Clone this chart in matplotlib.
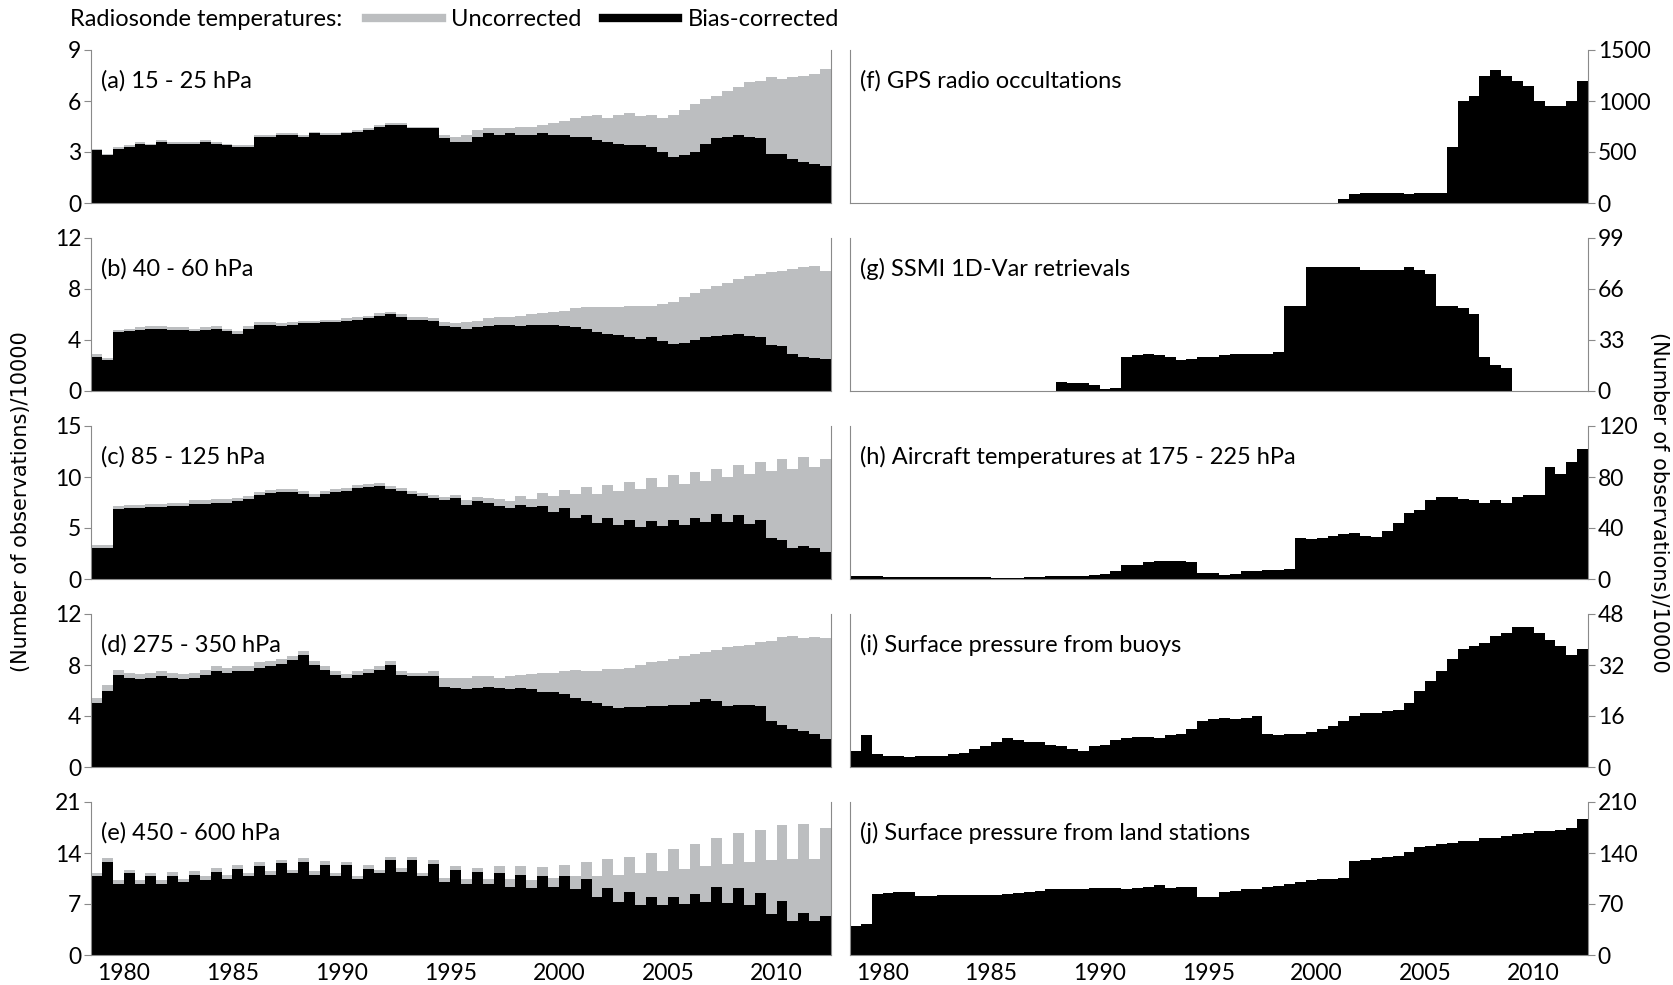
import numpy as np
import matplotlib.pyplot as plt
from matplotlib.lines import Line2D

# half-year bins, Jan-Jun and Jul-Dec, 1979-2012
years = np.arange(1979, 2013)
edges = np.arange(1979, 2013.001, 0.5)

# radiosonde temperatures, (number of obs)/10000, two values per year
raw_a = [3.2, 2.9, 3.3, 3.4, 3.6, 3.5, 3.7, 3.6, 3.6, 3.6, 3.7, 3.6,   # 1979-84
         3.5, 3.4, 3.4, 4.0, 4.0, 4.1, 4.1, 4.0, 4.2, 4.1, 4.1, 4.2,   # 1985-90
         4.3, 4.4, 4.6, 4.7, 4.7, 4.5, 4.5, 4.5, 4.0, 3.9, 4.0, 4.3,   # 1991-96
         4.4, 4.4, 4.4, 4.5, 4.5, 4.6, 4.7, 4.8, 5.0, 5.1, 5.2, 5.0,   # 1997-02
         5.2, 5.3, 5.1, 5.2, 5.0, 5.2, 5.5, 5.8, 6.1, 6.3, 6.6, 6.8,   # 2003-08
         7.1, 7.2, 7.4, 7.3, 7.4, 7.5, 7.6, 7.9]                       # 2009-12
cor_a = [3.1, 2.8, 3.2, 3.3, 3.5, 3.4, 3.6, 3.5, 3.5, 3.5, 3.6, 3.5,
         3.4, 3.3, 3.3, 3.9, 3.9, 4.0, 4.0, 3.9, 4.1, 4.0, 4.0, 4.1,
         4.2, 4.3, 4.5, 4.6, 4.6, 4.4, 4.4, 4.4, 3.8, 3.6, 3.6, 3.9,
         4.1, 4.0, 4.1, 4.0, 4.0, 4.1, 4.0, 4.0, 3.9, 3.9, 3.7, 3.6,
         3.5, 3.4, 3.4, 3.3, 3.0, 2.7, 2.8, 3.0, 3.5, 3.8, 3.9, 4.0,
         3.9, 3.8, 2.9, 2.9, 2.6, 2.4, 2.3, 2.2]

raw_b = [2.9, 2.6, 4.8, 4.9, 5.0, 5.1, 5.1, 5.0, 5.0, 4.9, 5.0, 5.1,
         4.9, 4.7, 5.1, 5.4, 5.4, 5.3, 5.4, 5.5, 5.5, 5.6, 5.6, 5.7,
         5.8, 5.9, 6.1, 6.2, 6.0, 5.8, 5.8, 5.7, 5.4, 5.3, 5.4, 5.5,
         5.7, 5.8, 5.8, 5.9, 6.0, 6.1, 6.2, 6.3, 6.5, 6.6, 6.6, 6.6,
         6.6, 6.7, 6.7, 6.7, 6.8, 7.0, 7.4, 7.7, 8.0, 8.2, 8.5, 8.8,
         9.0, 9.2, 9.3, 9.4, 9.6, 9.7, 9.8, 9.4]
cor_b = [2.7, 2.4, 4.6, 4.7, 4.8, 4.9, 4.9, 4.8, 4.8, 4.7, 4.8, 4.9,
         4.7, 4.5, 4.9, 5.2, 5.2, 5.1, 5.2, 5.3, 5.3, 5.4, 5.4, 5.5,
         5.6, 5.7, 5.9, 6.0, 5.8, 5.6, 5.6, 5.5, 5.1, 5.0, 4.9, 5.0,
         5.1, 5.2, 5.2, 5.1, 5.2, 5.2, 5.2, 5.1, 5.0, 4.9, 4.6, 4.5,
         4.4, 4.2, 4.1, 4.2, 3.9, 3.7, 3.8, 4.0, 4.2, 4.3, 4.4, 4.5,
         4.3, 4.2, 3.6, 3.5, 2.9, 2.7, 2.6, 2.5]

raw_c = [3.3, 3.3, 7.2, 7.3, 7.3, 7.4, 7.4, 7.5, 7.5, 7.7, 7.7, 7.8,
         7.8, 7.9, 8.1, 8.5, 8.7, 8.8, 8.8, 8.6, 8.3, 8.6, 8.8, 8.9,
         9.2, 9.3, 9.4, 9.1, 8.9, 8.6, 8.4, 8.2, 8.0, 8.2, 7.7, 8.0,
         7.9, 7.8, 7.6, 8.1, 7.8, 8.4, 8.1, 8.7, 8.3, 9.0, 8.3, 9.2,
         8.6, 9.5, 8.8, 9.9, 9.0, 10.2, 9.3, 10.5, 9.6, 10.8, 10.0, 11.2,
         10.3, 11.5, 10.6, 11.8, 10.8, 12.0, 11.0, 11.8]
cor_c = [3.0, 3.0, 6.9, 7.0, 7.0, 7.1, 7.1, 7.2, 7.2, 7.4, 7.4, 7.5,
         7.5, 7.6, 7.8, 8.2, 8.4, 8.5, 8.5, 8.3, 8.0, 8.3, 8.5, 8.6,
         8.9, 9.0, 9.1, 8.8, 8.6, 8.3, 8.1, 7.9, 7.7, 7.9, 7.3, 7.6,
         7.5, 7.2, 7.0, 7.3, 7.1, 7.2, 6.6, 7.0, 6.0, 6.3, 5.5, 6.0,
         5.3, 5.8, 5.1, 5.7, 5.2, 5.8, 5.3, 6.0, 5.6, 6.4, 5.6, 6.3,
         5.4, 5.8, 4.0, 3.8, 3.0, 3.2, 3.0, 2.6]

raw_d = [5.4, 6.4, 7.6, 7.4, 7.3, 7.4, 7.5, 7.4, 7.3, 7.4, 7.6, 7.9,
         7.8, 7.9, 7.9, 8.2, 8.3, 8.5, 8.7, 9.1, 8.3, 7.9, 7.5, 7.3,
         7.5, 7.7, 7.9, 8.3, 7.5, 7.4, 7.4, 7.5, 7.0, 7.0, 7.0, 7.1,
         7.1, 7.0, 7.1, 7.2, 7.3, 7.4, 7.4, 7.5, 7.6, 7.5, 7.5, 7.7,
         7.7, 7.8, 8.0, 8.2, 8.3, 8.5, 8.7, 8.9, 9.0, 9.2, 9.4, 9.5,
         9.6, 9.8, 9.9, 10.2, 10.3, 10.1, 10.2, 10.1]
cor_d = [5.0, 6.0, 7.2, 7.0, 6.9, 7.0, 7.1, 7.0, 6.9, 7.0, 7.2, 7.5,
         7.4, 7.5, 7.5, 7.8, 7.9, 8.1, 8.4, 8.8, 8.0, 7.6, 7.2, 7.0,
         7.2, 7.4, 7.6, 8.0, 7.2, 7.1, 7.1, 7.1, 6.3, 6.2, 6.1, 6.2,
         6.3, 6.2, 6.1, 6.2, 6.1, 5.9, 5.9, 5.7, 5.4, 5.2, 5.0, 4.8,
         4.6, 4.7, 4.7, 4.8, 4.8, 4.9, 4.9, 5.1, 5.3, 5.2, 4.8, 4.9,
         4.9, 4.8, 3.6, 3.3, 3.0, 2.8, 2.6, 2.2]

raw_e = [11.3, 13.3, 10.3, 11.7, 10.3, 11.3, 10.3, 11.4, 10.5, 11.5, 10.8, 11.9,
         11.0, 12.3, 11.3, 12.7, 11.5, 13.1, 11.7, 13.3, 11.5, 12.9, 11.3, 12.8,
         10.9, 12.3, 11.7, 13.5, 11.9, 13.5, 11.3, 13.0, 10.6, 12.2, 10.4, 12.0,
         10.4, 12.2, 10.4, 12.2, 10.3, 12.1, 10.6, 12.4, 10.8, 12.8, 10.9, 13.2,
         11.0, 13.5, 11.3, 14.0, 11.5, 14.5, 11.8, 15.3, 12.2, 16.0, 12.5, 16.8,
         12.8, 17.2, 13.0, 17.8, 13.2, 18.0, 13.2, 17.5]
cor_e = [10.8, 12.8, 9.8, 11.2, 9.8, 10.8, 9.8, 10.9, 10.0, 11.0, 10.3, 11.4,
         10.5, 11.8, 10.8, 12.2, 11.0, 12.6, 11.2, 12.8, 11.0, 12.4, 10.8, 12.3,
         10.4, 11.8, 11.2, 13.0, 11.4, 13.0, 10.8, 12.5, 10.0, 11.6, 9.8, 11.4,
         9.7, 11.2, 9.4, 11.0, 9.2, 10.8, 9.4, 10.8, 9.0, 10.5, 8.0, 9.2,
         7.3, 8.6, 6.9, 8.0, 6.8, 7.9, 7.0, 8.4, 7.3, 9.4, 7.1, 9.2,
         6.8, 8.5, 5.6, 7.4, 4.6, 5.7, 4.6, 5.3]

# other observing systems, (number of obs)/10000
gps = [0] * 44 + [0, 40, 90, 100, 100, 100, 100, 90, 100, 100, 100, 550,
                  1000, 1050, 1250, 1300, 1250, 1200, 1150, 1000, 950, 950, 1000, 1200]
ssmi = [0] * 18 + [0, 6, 5, 5, 4, 1, 2, 22, 23, 24, 23, 22,
                   20, 21, 22, 22, 23, 24, 24, 24, 24, 25, 55, 55,
                   80, 80, 80, 80, 80, 78, 78, 78, 78, 80, 78, 76,
                   55, 55, 54, 50, 22, 17, 15, 0, 0, 0, 0, 0, 0, 0]
aircraft = [2, 2, 2, 1.5, 1.5, 1.5, 1.5, 1.5, 1.5, 1.5, 1.5, 1.5,
            1.5, 1, 1, 1, 1.5, 1.5, 2, 2, 2, 2.5, 3, 4,
            6, 11, 11, 13, 14, 14, 14, 13, 5, 5, 3, 4,
            6, 6, 7, 7, 8, 32, 31, 32, 34, 35, 36, 34,
            33, 38, 44, 52, 54, 62, 64, 64, 63, 62, 60, 62,
            60, 64, 66, 66, 88, 82, 92, 102]
buoys = [5, 10, 4, 3.5, 3.5, 3, 3.5, 3.5, 3.5, 4, 4.5, 5.5,
         6.5, 8, 9, 8.5, 8, 8, 7, 6.5, 5.5, 5, 6.5, 7,
         8.5, 9, 9.5, 9.5, 9, 10, 10.5, 12, 14.5, 15, 15.5, 15,
         15.5, 16, 10.5, 10, 10.5, 10.5, 11, 12, 13, 14.5, 16, 17,
         17, 17.5, 18, 20, 24, 27, 30, 34, 37, 38, 39, 41,
         42, 44, 44, 42, 40, 38, 35, 37]
land = [40, 42, 84, 85, 86, 86, 81, 81, 82, 82, 83, 83,
        83, 83, 84, 85, 87, 88, 90, 90, 91, 91, 92, 92,
        92, 91, 92, 94, 96, 92, 93, 93, 80, 80, 86, 88,
        90, 90, 93, 95, 98, 100, 103, 104, 105, 106, 129, 130,
        133, 134, 136, 141, 148, 150, 152, 154, 157, 157, 160, 160,
        163, 166, 168, 170, 170, 171, 175, 186]

left_panels = [
    ('(a) 15 - 25 hPa', raw_a, cor_a, [0, 3, 6, 9]),
    ('(b) 40 - 60 hPa', raw_b, cor_b, [0, 4, 8, 12]),
    ('(c) 85 - 125 hPa', raw_c, cor_c, [0, 5, 10, 15]),
    ('(d) 275 - 350 hPa', raw_d, cor_d, [0, 4, 8, 12]),
    ('(e) 450 - 600 hPa', raw_e, cor_e, [0, 7, 14, 21]),
]
right_panels = [
    ('(f) GPS radio occultations', gps, [0, 500, 1000, 1500]),
    ('(g) SSMI 1D-Var retrievals', ssmi, [0, 33, 66, 99]),
    ('(h) Aircraft temperatures at 175 - 225 hPa', aircraft, [0, 40, 80, 120]),
    ('(i) Surface pressure from buoys', buoys, [0, 16, 32, 48]),
    ('(j) Surface pressure from land stations', land, [0, 70, 140, 210]),
]

GREY = '#bcbec0'
SPINE = '#8a8a8a'

plt.rcParams['font.family'] = ['Lato', 'DejaVu Sans']

W, H = 1673, 985
fig = plt.figure(figsize=(W / 100, H / 100), dpi=100)

tops = [50, 238, 426, 614, 802]
ph = 153


def style(ax, ticks, side, bottom_row):
    ax.set_xlim(1979, 2013)
    ax.set_ylim(0, ticks[-1])
    ax.set_yticks(ticks)
    ax.spines['top'].set_visible(False)
    for s in ['left', 'right', 'bottom']:
        ax.spines[s].set_color(SPINE)
        ax.spines[s].set_linewidth(0.8)
    if side == 'right':
        ax.yaxis.tick_right()
    ax.tick_params(axis='y', length=5, width=0.8, color=SPINE, labelsize=16.5, pad=2)
    ax.set_xticks(years[1::5] + 0.5)
    ax.tick_params(axis='x', length=0, labelsize=16.5, pad=6)
    if bottom_row:
        ax.set_xticklabels([str(y) for y in years[1::5]])
    else:
        ax.set_xticklabels([])


for i, (label, raw, cor, ticks) in enumerate(left_panels):
    ax = fig.add_axes([91 / W, 1 - (tops[i] + ph) / H, 740 / W, ph / H])
    ax.stairs(raw, edges, fill=True, color=GREY, lw=0)
    ax.stairs(cor, edges, fill=True, color='black', lw=0)
    style(ax, ticks, 'left', i == 4)
    ax.text(0.014, 0.80, label, transform=ax.transAxes, fontsize=17, va='center')

for i, (label, vals, ticks) in enumerate(right_panels):
    ax = fig.add_axes([850 / W, 1 - (tops[i] + ph) / H, 738 / W, ph / H])
    ax.stairs(vals, edges, fill=True, color='black', lw=0)
    style(ax, ticks, 'right', i == 4)
    ax.text(0.014, 0.80, label, transform=ax.transAxes, fontsize=17, va='center')

# legend row
fig.text(70 / W, 1 - 20 / H, 'Radiosonde temperatures:', fontsize=17, va='center')
handles = [Line2D([], [], color=GREY, lw=6), Line2D([], [], color='black', lw=6)]
fig.legend(handles, ['Uncorrected', 'Bias-corrected'], loc='center left',
           bbox_to_anchor=(366 / W, 1 - 20 / H), ncol=2, frameon=False,
           borderpad=0, borderaxespad=0, handlelength=3.2, handletextpad=0.4,
           columnspacing=0.9, fontsize=17)

ylab = '(Number of observations)/10000'
fig.text(21 / W, 1 - 502 / H, ylab, rotation=90, va='center', ha='center',
         fontsize=15, family='DejaVu Sans')
fig.text(1659 / W, 1 - 502 / H, ylab, rotation=-90, va='center', ha='center',
         fontsize=15, family='DejaVu Sans')

fig.savefig('out.png', dpi=100)
